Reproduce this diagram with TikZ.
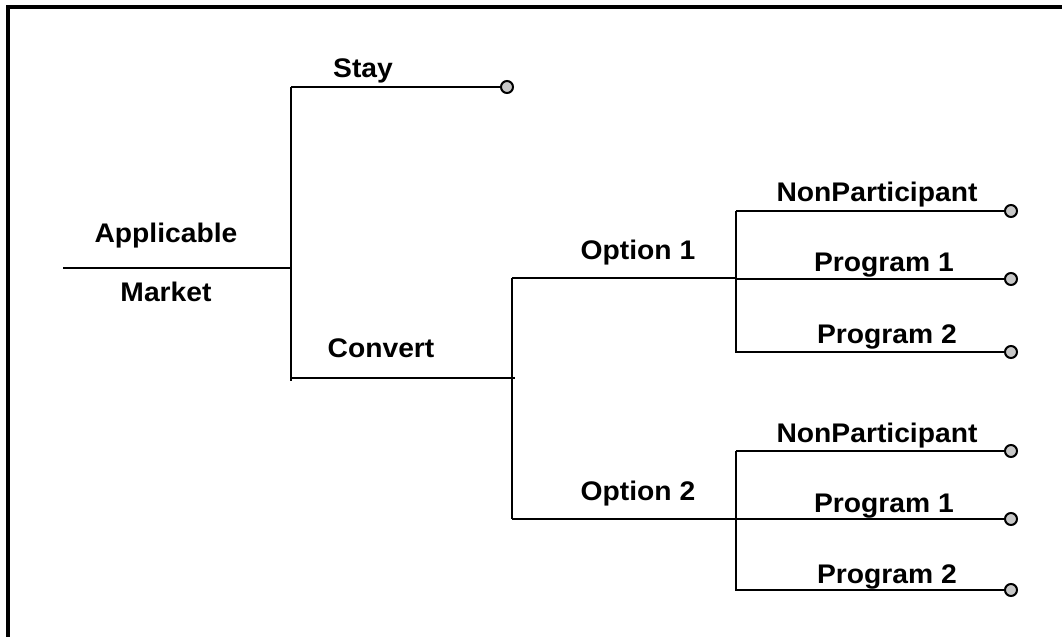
\documentclass[tikz,border=0pt]{standalone}
\usepackage{fontspec}
\setmainfont{Liberation Sans}[FakeStretch=1.05]
\definecolor{leafgray}{RGB}{200,200,200}
\begin{document}
\begin{tikzpicture}[x=1bp,y=-1bp,
  wire/.style={line width=2.2bp},
  frameline/.style={line width=4bp, line join=miter},
  leaf/.style={circle, draw, line width=2bp, fill=leafgray,
    minimum size=12bp, inner sep=0pt},
  lbl/.style={anchor=base, inner sep=0pt,
    font=\fontsize{27}{32}\selectfont\bfseries}]
\useasboundingbox (0,0) rectangle (1062,637);

% open frame: top and left edges only
\draw[frameline] (8,637) -- (8,7) -- (1062,7);

% junction points
\coordinate (root) at (63,268);
\coordinate (j1) at (291,268);
\coordinate (j1top) at (291,87);
\coordinate (j1bot) at (291,381);
\coordinate (cv) at (291,378);
\coordinate (cvend) at (515,378);
\coordinate (j2top) at (512,278);
\coordinate (j2bot) at (512,519);
\coordinate (o1) at (736,278);
\coordinate (o2) at (736,519);
\coordinate (g1top) at (736,211);
\coordinate (g1mid) at (736,279);
\coordinate (g1bot) at (736,353);
\coordinate (g2top) at (736,451);
\coordinate (g2mid) at (736,519);
\coordinate (g2bot) at (736,591);

% end points of the branches
\node[leaf] (stay) at (507,87) {};
\node[leaf] (np1) at (1011,211) {};
\node[leaf] (pa1) at (1011,279) {};
\node[leaf] (pb1) at (1011,352) {};
\node[leaf] (np2) at (1011,451) {};
\node[leaf] (pa2) at (1011,519) {};
\node[leaf] (pb2) at (1011,590) {};

% tree lines
\draw[wire] (root) -- (j1);
\draw[wire] (j1top) -- (j1bot);
\draw[wire] (j1top) -- (stay.west);
\draw[wire] (cv) -- (cvend);
\draw[wire] (j2top) -- (j2bot);
\draw[wire] (j2top) -- (o1);
\draw[wire] (j2bot) -- (o2);
\draw[wire] (g1top) -- (g1bot);
\draw[wire] (g2top) -- (g2bot);
\draw[wire] (g1top) -- (np1.west);
\draw[wire] (g1mid) -- (pa1.west);
\draw[wire] (736,352) -- (pb1.west);
\draw[wire] (g2top) -- (np2.west);
\draw[wire] (g2mid) -- (pa2.west);
\draw[wire] (736,590) -- (pb2.west);

% labels
\node[lbl] (tapp) at (166,243) {Applicable};
\node[lbl] (tmkt) at (166,302) {Market};
\node[lbl] (tstay) at (363,78) {Stay};
\node[lbl] (tconv) at (381,357) {Convert};
\node[lbl] (topt1) at (638,260) {Option 1};
\node[lbl] (topt2) at (638,500) {Option 2};
\node[lbl] (tnp1) at (877,202) {NonParticipant};
\node[lbl] (tpa1) at (884,272) {Program 1};
\node[lbl] (tpb1) at (887,343) {Program 2};
\node[lbl] (tnp2) at (877,442) {NonParticipant};
\node[lbl] (tpa2) at (884,512) {Program 1};
\node[lbl] (tpb2) at (887,583) {Program 2};
\end{tikzpicture}
\end{document}
